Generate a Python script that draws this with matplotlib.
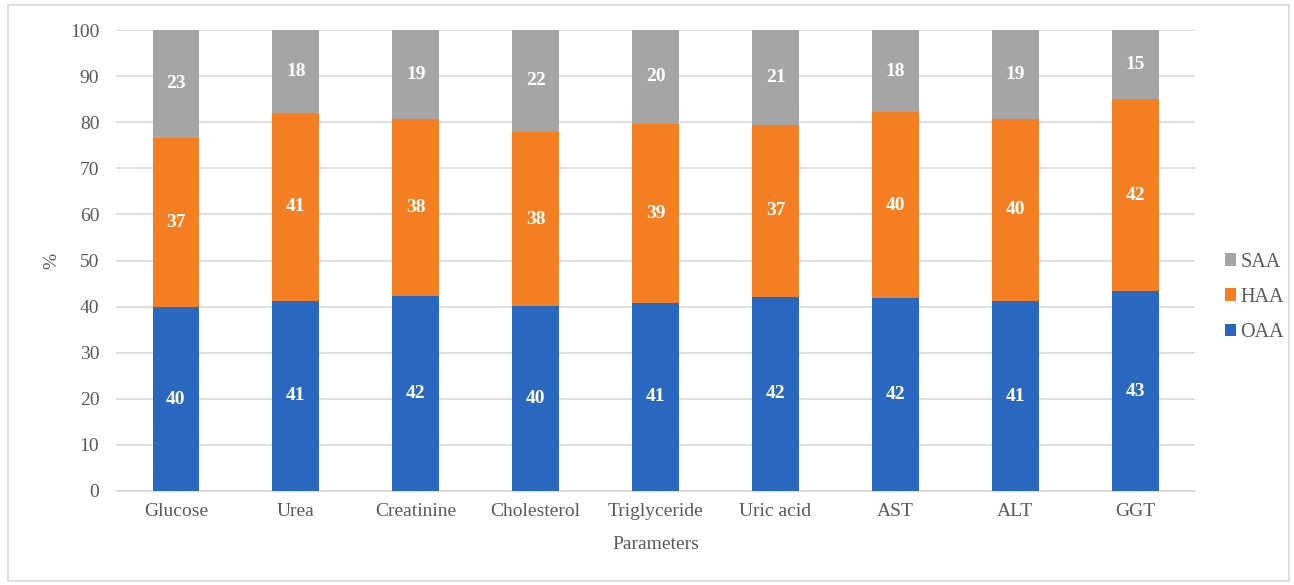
import numpy as np
import matplotlib.pyplot as plt
from matplotlib.patches import Rectangle

plt.rcParams['font.family'] = ['Liberation Serif', 'DejaVu Serif']

# Share of each group per biochemical parameter (%)
parameters = ['Glucose', 'Urea', 'Creatinine', 'Cholesterol', 'Triglyceride',
              'Uric acid', 'AST', 'ALT', 'GGT']
oaa = [39.9, 41.3, 42.2, 40.1, 40.8, 42.1, 41.8, 41.2, 43.3]
haa = [36.7, 40.7, 38.4, 37.8, 38.9, 37.3, 40.4, 39.6, 41.8]
saa = [23.4, 18.0, 19.4, 22.1, 20.3, 20.6, 17.8, 19.2, 14.9]

series = [('OAA', oaa, '#2A67BE'), ('HAA', haa, '#F47E22'), ('SAA', saa, '#A5A5A5')]

fig = plt.figure(figsize=(12.94, 5.85), dpi=100)
ax = fig.add_axes([0.0896, 0.1607, 0.834, 0.788])

x = np.arange(len(parameters))
bottom = np.zeros(len(parameters))
handles = []
for name, vals, color in series:
    vals = np.array(vals)
    bars = ax.bar(x, vals, width=0.39, bottom=bottom, color=color, label=name, zorder=3)
    handles.append(bars)
    for xi, b, v in zip(x, bottom, vals):
        ax.text(xi, b + v / 2, f'{v:.0f}', ha='center', va='center',
                color='white', fontweight='bold', fontsize=14, zorder=4)
    bottom += vals

ax.set_xlim(-0.5, len(parameters) - 0.5)
ax.set_ylim(0, 100)
ax.set_yticks(range(0, 101, 10))
ax.set_xticks(x)
ax.set_xticklabels(parameters)
ax.tick_params(axis='both', length=0, labelsize=14, labelcolor='#595959')
ax.tick_params(axis='y', pad=12)
ax.tick_params(axis='x', pad=9)
ax.grid(axis='y', color='#D9D9D9', linewidth=1.2, zorder=0)
for s in ['top', 'right', 'left']:
    ax.spines[s].set_visible(False)
ax.spines['bottom'].set_color('#D9D9D9')
ax.spines['bottom'].set_linewidth(1.2)

ax.set_ylabel('%', fontsize=14, color='#595959', labelpad=7)
ax.set_xlabel('Parameters', fontsize=14, color='#595959', labelpad=11)

fig.legend(handles[::-1], ['SAA', 'HAA', 'OAA'], loc='center left',
           bbox_to_anchor=(0.947, 0.492), frameon=False, fontsize=14.5,
           labelcolor='#595959', handlelength=0.55, handleheight=0.55,
           handletextpad=0.2, labelspacing=0.8, borderpad=0, borderaxespad=0)

# light frame around the whole chart
fig.patches.append(Rectangle((8 / 1294, 4 / 585), 1281 / 1294, 576 / 585,
                             transform=fig.transFigure, fill=False,
                             edgecolor='#D9D9D9', linewidth=1.2))

fig.savefig('out.png', dpi=100)
